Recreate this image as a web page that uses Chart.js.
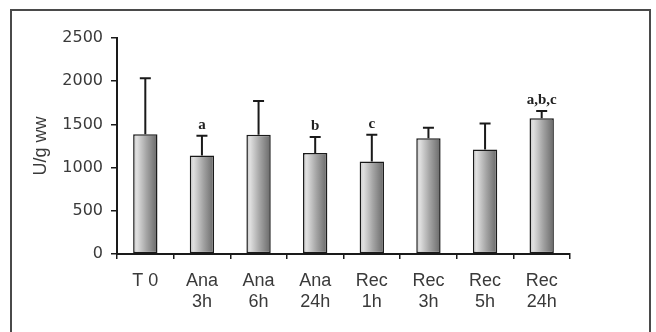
<!DOCTYPE html>
<html>
<head>
<meta charset="utf-8">
<script src="https://cdn.jsdelivr.net/npm/chart.js@4"></script>
<style>
  body { margin: 0; background: #fff; }
  #wrap { position: relative; width: 656px; height: 332px; overflow: hidden; }
  #frame { position: absolute; left: 10px; top: 9px; width: 641px; height: 340px; border: 2px solid #4a4a4a; box-sizing: border-box; }
  canvas { position: absolute; left: 0; top: 0; }
</style>
</head>
<body>
<div id="wrap">
  <div id="frame"></div>
  <canvas id="chart" width="656" height="332"></canvas>
</div>
<script>
// categories and values
const groupLabels = [["T 0"], ["Ana", "3h"], ["Ana", "6h"], ["Ana", "24h"], ["Rec", "1h"], ["Rec", "3h"], ["Rec", "5h"], ["Rec", "24h"]];
const meanValues = [1385, 1140, 1380, 1170, 1070, 1340, 1210, 1570];
const sdValues = [650, 230, 390, 185, 310, 120, 300, 85];
const sigLabels = ["", "a", "", "b", "c", "", "", "a,b,c"];
const yTicks = [0, 500, 1000, 1500, 2000, 2500];

const BAR_FRAC = 0.43;

// shaded bar like the old excel cylinder look
function barFill(ctx) {
  const chart = ctx.chart;
  const x = chart.scales.x;
  if (!x || !chart.chartArea) return "#aaa";
  const cx = x.getPixelForValue(ctx.dataIndex);
  const w = (x.width / groupLabels.length) * BAR_FRAC;
  const g = chart.ctx.createLinearGradient(cx - w / 2, 0, cx + w / 2, 0);
  g.addColorStop(0, "#c4c4c4");
  g.addColorStop(0.15, "#e0e0e0");
  g.addColorStop(0.55, "#a4a4a4");
  g.addColorStop(1, "#686868");
  return g;
}

// upper error bars + significance letters
const errorBars = {
  id: "errorBars",
  afterDatasetsDraw(chart) {
    const ctx = chart.ctx;
    const x = chart.scales.x, y = chart.scales.y;
    ctx.save();
    ctx.strokeStyle = "#1a1a1a";
    ctx.lineWidth = 2;
    meanValues.forEach((m, i) => {
      const px = x.getPixelForValue(i);
      const top = y.getPixelForValue(m + sdValues[i]);
      const base = y.getPixelForValue(m);
      ctx.beginPath();
      ctx.moveTo(px, base);
      ctx.lineTo(px, top);
      ctx.moveTo(px - 5.5, top);
      ctx.lineTo(px + 5.5, top);
      ctx.stroke();
      if (sigLabels[i]) {
        ctx.fillStyle = "#222";
        ctx.font = "bold 15px 'Liberation Serif', 'Times New Roman', serif";
        ctx.textAlign = "center";
        ctx.textBaseline = "alphabetic";
        ctx.fillText(sigLabels[i], px, top - 7);
      }
    });
    ctx.restore();
  }
};

new Chart(document.getElementById("chart"), {
  type: "bar",
  data: {
    labels: groupLabels,
    datasets: [{
      data: meanValues,
      backgroundColor: barFill,
      borderColor: "#1a1a1a",
      borderWidth: 1.5,
      borderSkipped: false,
      categoryPercentage: 1,
      barPercentage: BAR_FRAC
    }]
  },
  options: {
    responsive: false,
    animation: false,
    layout: { padding: { top: 38, right: 86, left: 0, bottom: 0 } },
    plugins: { legend: { display: false }, tooltip: { enabled: false } },
    scales: {
      x: {
        afterFit: s => { s.height = 78; },
        grid: { display: true, drawOnChartArea: false, offset: true, tickLength: 5, color: "#1a1a1a", lineWidth: 1.5 },
        border: { display: true, color: "#1a1a1a", width: 2 },
        ticks: {
          color: "#3a3a3a",
          padding: 11,
          maxRotation: 0,
          font: { family: "'Liberation Sans', Arial, sans-serif", size: 18, lineHeight: 1.2 }
        }
      },
      y: {
        min: 0,
        max: 2500,
        afterFit: s => { s.width = 117; },
        afterBuildTicks: s => { s.ticks = yTicks.map(v => ({ value: v })); },
        grid: { display: true, drawOnChartArea: false, tickLength: 6, color: "#1a1a1a", lineWidth: 1.5 },
        border: { display: true, color: "#1a1a1a", width: 2 },
        ticks: {
          color: "#3a3a3a",
          padding: 8,
          callback: v => String(v),
          font: { family: "'DejaVu Sans', sans-serif", size: 16 }
        },
        title: {
          display: true,
          text: "U/g ww",
          color: "#3a3a3a",
          padding: { top: 30, bottom: 0 },
          font: { family: "'Liberation Sans', Arial, sans-serif", size: 18 }
        }
      }
    }
  },
  plugins: [errorBars]
});
</script>
</body>
</html>
